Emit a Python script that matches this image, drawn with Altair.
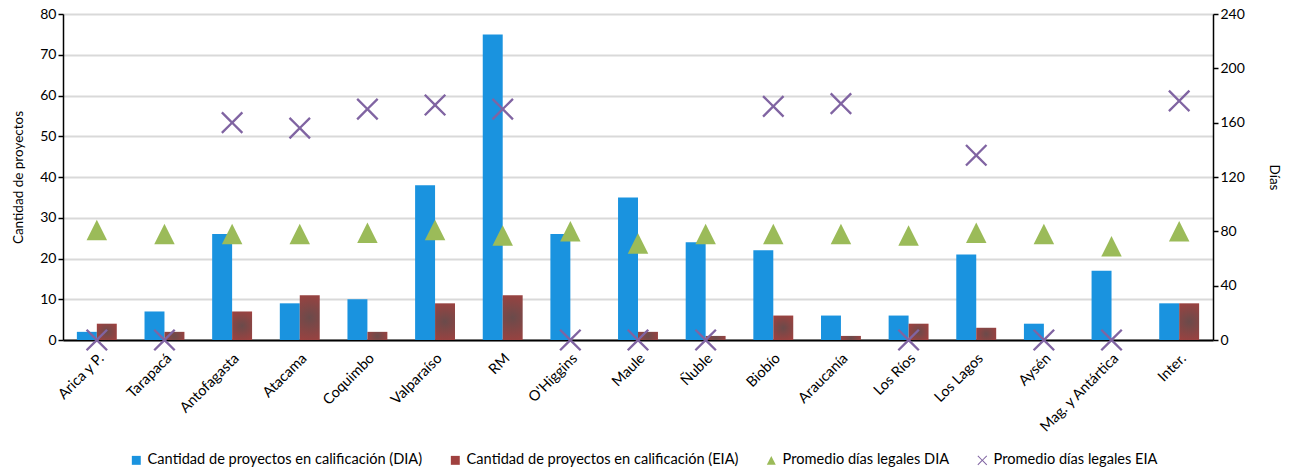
import altair as alt
import pandas as pd

# Regiones y valores del gráfico
regiones = ["Arica y P.", "Tarapacá", "Antofagasta", "Atacama", "Coquimbo", "Valparaíso",
            "RM", "O'Higgins", "Maule", "Ñuble", "Biobío", "Araucanía", "Los Ríos",
            "Los Lagos", "Aysén", "Mag. y Antártica", "Inter."]
proyectos_dia = [2, 7, 26, 9, 10, 38, 75, 26, 35, 24, 22, 6, 6, 21, 4, 17, 9]
proyectos_eia = [4, 2, 7, 11, 2, 9, 11, 0, 2, 1, 6, 1, 4, 3, 0, 0, 9]
dias_dia = [81, 78, 78, 78, 79, 81, 77, 80, 71, 78, 78, 78, 77, 79, 78, 69, 80]
dias_eia = [0, 0, 160, 156, 170, 173, 170, 0, 0, 0, 172, 174, 0, 136, 0, 0, 176]

series = ["Cantidad de proyectos en calificación (DIA)",
          "Cantidad de proyectos en calificación (EIA)",
          "Promedio días legales DIA",
          "Promedio días legales EIA"]
colores = ["#1a93df", "#a0413f", "#9bbb59", "#8064a2"]

FONT = "Lato"

# Símbolos: triángulo y aspa rellenos en coordenadas [-1, 1]
triangulo = "M0,-1L1,1L-1,1Z"
k = 0.08
aspa = (f"M0,{-2*k}L{1-k},{-1-k}L{1+k},{-1+k}L{2*k},0L{1+k},{1-k}L{1-k},{1+k}"
        f"L0,{2*k}L{-1+k},{1+k}L{-1-k},{1-k}L{-2*k},0L{-1-k},{-1+k}L{-1+k},{-1-k}Z")
formas = ["square", "square", triangulo, aspa]

barras = pd.DataFrame({
    "region": regiones * 2,
    "tipo": ["DIA"] * len(regiones) + ["EIA"] * len(regiones),
    "valor": proyectos_dia + proyectos_eia,
})
puntos = pd.DataFrame({
    "region": regiones * 2,
    "serie": [series[2]] * len(regiones) + [series[3]] * len(regiones),
    "dias": dias_dia + dias_eia,
})

x_enc = alt.X("region:N", sort=regiones, title=None,
              scale=alt.Scale(paddingInner=0.41, paddingOuter=0.205),
              axis=alt.Axis(labelAngle=-45, labelFontSize=14.5, labelFont=FONT,
                            labelColor="#000", ticks=False, domainColor="#000",
                            domainWidth=2, labelPadding=11))
off_enc = alt.XOffset("tipo:N", scale=alt.Scale(domain=["DIA", "EIA"]))
y_bar = alt.Y("valor:Q", scale=alt.Scale(domain=[0, 80]),
              title="Cantidad de proyectos",
              axis=alt.Axis(values=list(range(0, 81, 10)), orient="left",
                            labelFontSize=14, labelFont=FONT, labelColor="#000",
                            titleFont=FONT, titleFontSize=13.5, titleFontWeight="normal",
                            titleColor="#000", titlePadding=14,
                            domainColor="#000", domainWidth=1.5, tickColor="#000",
                            tickSize=5, tickWidth=1.5,
                            gridColor="#d9d9d9", gridWidth=2))

base_bar = alt.Chart(barras)
dia = base_bar.transform_filter(alt.datum.tipo == "DIA").mark_bar(
    color="#1a93df").encode(x=x_enc, xOffset=off_enc, y=y_bar)
eia = base_bar.transform_filter(alt.datum.tipo == "EIA").mark_bar(
    color=alt.Gradient(gradient="radial",
                       stops=[alt.GradientStop(color="#6a4b4b", offset=0),
                              alt.GradientStop(color="#a0413f", offset=1)],
                       x1=0.5, y1=0.5, r1=0, x2=0.5, y2=0.5, r2=0.6)
).encode(x=x_enc, xOffset=off_enc, y=y_bar)

leyenda = dict(title=None, orient="none", direction="horizontal",
               legendX=66, legendY=439, columnPadding=25,
               symbolSize=80, labelFontSize=14.6, labelFont=FONT,
               labelColor="#000", labelLimit=400,
               symbolStrokeWidth=0, padding=0)

marcadores = alt.Chart(puntos).mark_point(filled=True, opacity=1, size=420).encode(
    x=x_enc,
    y=alt.Y("dias:Q", scale=alt.Scale(domain=[0, 240]), title="Días",
            axis=alt.Axis(values=list(range(0, 241, 40)), orient="right", grid=False,
                          labelFontSize=14, labelFont=FONT, labelColor="#000",
                          titleFont=FONT, titleFontSize=13.5, titleFontWeight="normal",
                          titleColor="#000", titlePadding=22,
                          domainColor="#000", domainWidth=1.5, tickColor="#000",
                          tickSize=5, tickWidth=1.5)),
    color=alt.Color("serie:N", scale=alt.Scale(domain=series, range=colores),
                    legend=alt.Legend(**leyenda)),
    shape=alt.Shape("serie:N", scale=alt.Scale(domain=series, range=formas),
                    legend=alt.Legend(**leyenda)),
)

chart = alt.layer(alt.layer(dia, eia), marcadores).resolve_scale(y="independent").properties(
    width=1150, height=326,
    autosize=alt.AutoSizeParams(type="none"),
    padding={"left": 63, "top": 14, "right": 77, "bottom": 130},
).configure_view(stroke=None).configure(background="white")

chart.save("out.html", embed_options={"renderer": "svg", "actions": False})
